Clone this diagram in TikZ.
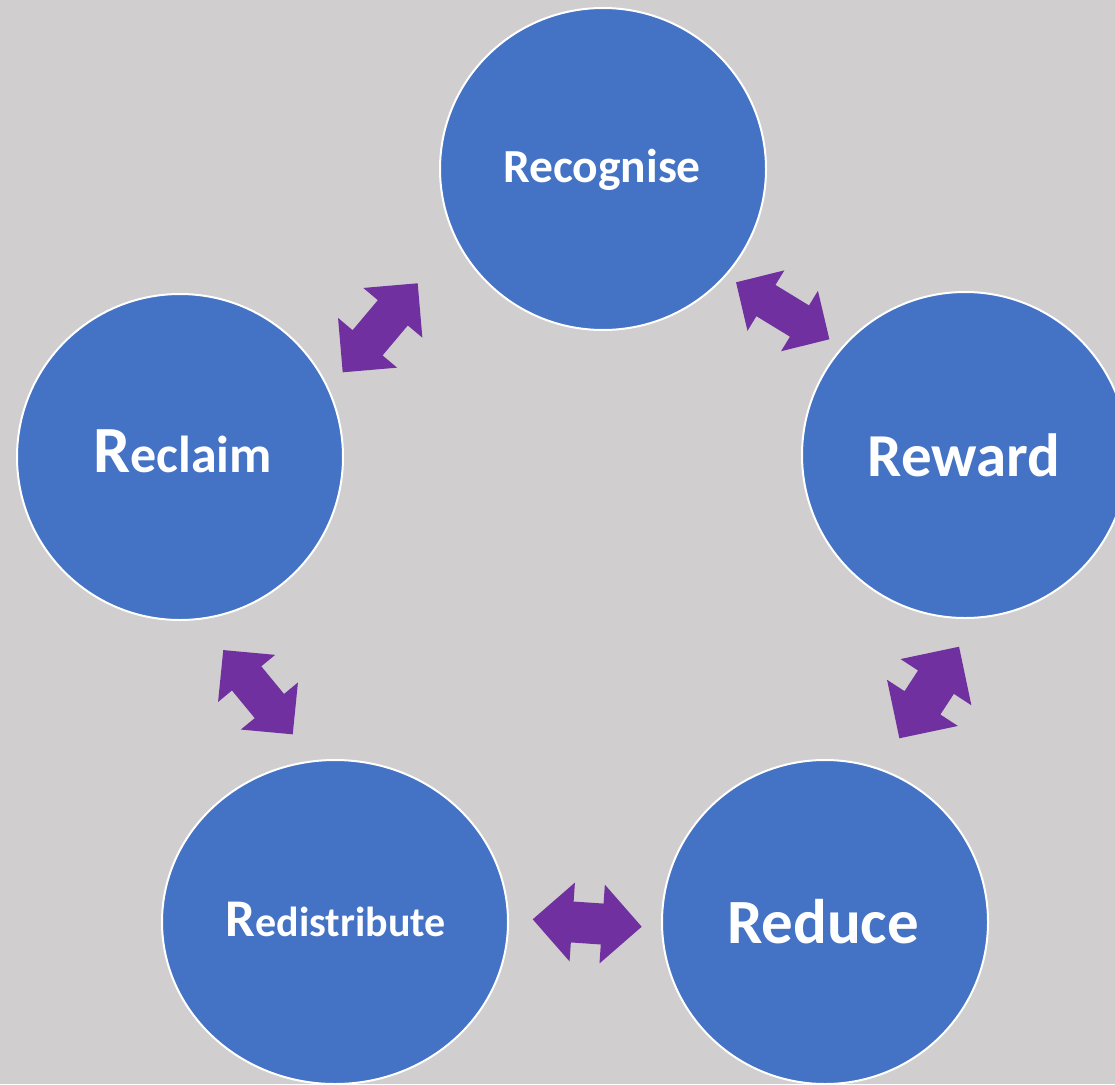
\documentclass[tikz,border=0pt]{standalone}
\usepackage{fontspec}
\setmainfont{Carlito}
\usetikzlibrary{shapes.geometric}
\definecolor{bg}{HTML}{D0CECE}
\definecolor{cblue}{HTML}{4472C4}
\definecolor{apurple}{HTML}{7030A0}
\tikzset{
  disc/.style={ellipse, fill=cblue, draw=white, line width=2pt, inner sep=0pt},
  lbl/.style={text=white, inner sep=0pt, anchor=base},
  pics/darrow/.style n args={4}{code={
    \fill[apurple] (-#1/2,0) -- (-#1/2+#2,#3) -- (-#1/2+#2,#4) -- (#1/2-#2,#4) -- (#1/2-#2,#3) -- (#1/2,0)
      -- (#1/2-#2,-#3) -- (#1/2-#2,-#4) -- (-#1/2+#2,-#4) -- (-#1/2+#2,-#3) -- cycle;
  }}
}
\begin{document}
\begin{tikzpicture}[x=1pt,y=-1pt]
\fill[bg] (0,0) rectangle (1115,1084);
\useasboundingbox (0,0) rectangle (1115,1084);
\clip (0,0) rectangle (1115,1084);

\node[disc, minimum width=326pt, minimum height=322pt] (recognise) at (603,169) {};
\node[disc, minimum width=326pt, minimum height=326pt] (reward) at (965,455) {};
\node[disc, minimum width=326pt, minimum height=326pt] (reclaim) at (180,457) {};
\node[disc, minimum width=346pt, minimum height=324pt] (redistribute) at (335,922) {};
\node[disc, minimum width=326pt, minimum height=324pt] (reduce) at (825,922) {};

\node[lbl, font=\bfseries\fontsize{47.5}{52}\selectfont] (recognise-t) at (602,182.7) {Recognise};
\node[lbl, font=\bfseries\fontsize{61}{66}\selectfont] (reward-t) at (964,476.7) {Reward};
\node[lbl, font=\bfseries\fontsize{52}{56}\selectfont] (reclaim-t) at (182.7,472.7) {{\fontsize{66}{70}\selectfont R}eclaim};
\node[lbl, font=\bfseries\fontsize{42}{46}\selectfont] (redistribute-t) at (335.8,936.7) {{\fontsize{53}{57}\selectfont R}edistribute};
\node[lbl, font=\bfseries\fontsize{63}{68}\selectfont] (reduce-t) at (823,943.3) {Reduce};

\pic[rotate=49.9] (a1) at (380.2,327.8) {darrow={116.4}{38.6}{38.6}{19.6}};
\pic[rotate=-31.4] (a2) at (782.7,310.8) {darrow={109.3}{35}{35.4}{18.3}};
\pic[rotate=56.9] (a3) at (929.2,692.5) {darrow={109.3}{42.3}{42.3}{21.4}};
\pic[rotate=-50.5] (a4) at (258,692.2) {darrow={109.2}{36.7}{37}{19}};
\pic[rotate=-3.9] (a5) at (587.2,923) {darrow={109.2}{39.6}{39.5}{20.5}};
\end{tikzpicture}
\end{document}
